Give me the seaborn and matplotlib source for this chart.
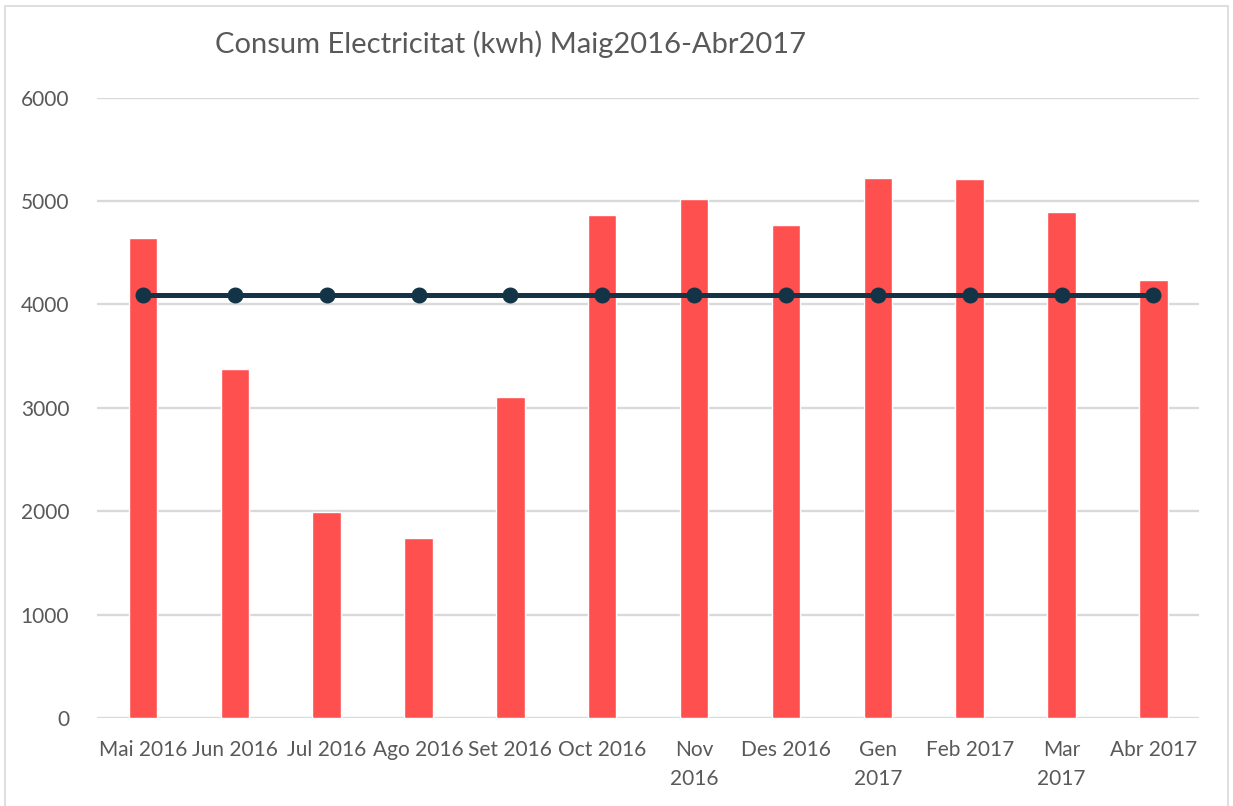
import numpy as np
import pandas as pd
import matplotlib
matplotlib.use("Agg")
import matplotlib.pyplot as plt
import seaborn as sns

# monthly electricity use
months = ["Mai 2016", "Jun 2016", "Jul 2016", "Ago 2016", "Set 2016", "Oct 2016",
          "Nov\n2016", "Des 2016", "Gen\n2017", "Feb 2017", "Mar\n2017", "Abr 2017"]
consum = [4645, 3378, 1990, 1739, 3108, 4862, 5016, 4768, 5220, 5213, 4890, 4232]
# average line (flat)
mitjana = [4088, 4088, 4088, 4088, 4088, 4088, 4088, 4088, 4088, 4088, 4088, 4088]

df = pd.DataFrame({"Mes": months, "Consum": consum, "Mitjana": mitjana})

sns.set_style("white")
plt.rcParams["font.family"] = ["Lato", "DejaVu Sans"]

fig = plt.figure(figsize=(12.33, 8.06), dpi=100)
ax = fig.add_axes([0.0787, 0.109, 0.894, 0.770])

# light frame around the chart area
fig.patches.append(plt.Rectangle((0.004, -0.01), 0.992, 1.003, transform=fig.transFigure,
                                 fill=False, edgecolor="#d9d9d9", linewidth=1.2))

sns.barplot(data=df, x="Mes", y="Consum", color="#FF5050", width=0.31,
            saturation=1, ax=ax, zorder=2)
ax.plot(np.arange(len(months)), df["Mitjana"], color="#133447", linewidth=3.6,
        marker="o", markersize=10.5, zorder=3)

ax.set_xlim(-0.5, len(months) - 0.5)
ax.set_ylim(0, 6000)
ax.set_yticks([0, 1000, 2000, 3000, 4000, 5000, 6000])
ax.yaxis.grid(True, color="#d9d9d9", linewidth=1.7, zorder=0)
ax.set_axisbelow(True)
sns.despine(ax=ax, left=True, bottom=True, top=True, right=True)
ax.tick_params(axis="both", length=0, labelsize=15, colors="#595959")
ax.tick_params(axis="y", pad=20)
ax.tick_params(axis="x", pad=16)
for lbl in ax.get_xticklabels():
    lbl.set_linespacing(1.55)
ax.set_xlabel("")
ax.set_ylabel("")

fig.text(0.414, 0.945, "Consum Electricitat (kwh) Maig2016-Abr2017", ha="center", va="center",
         fontsize=21, color="#595959")

fig.savefig("out.png", dpi=100)
